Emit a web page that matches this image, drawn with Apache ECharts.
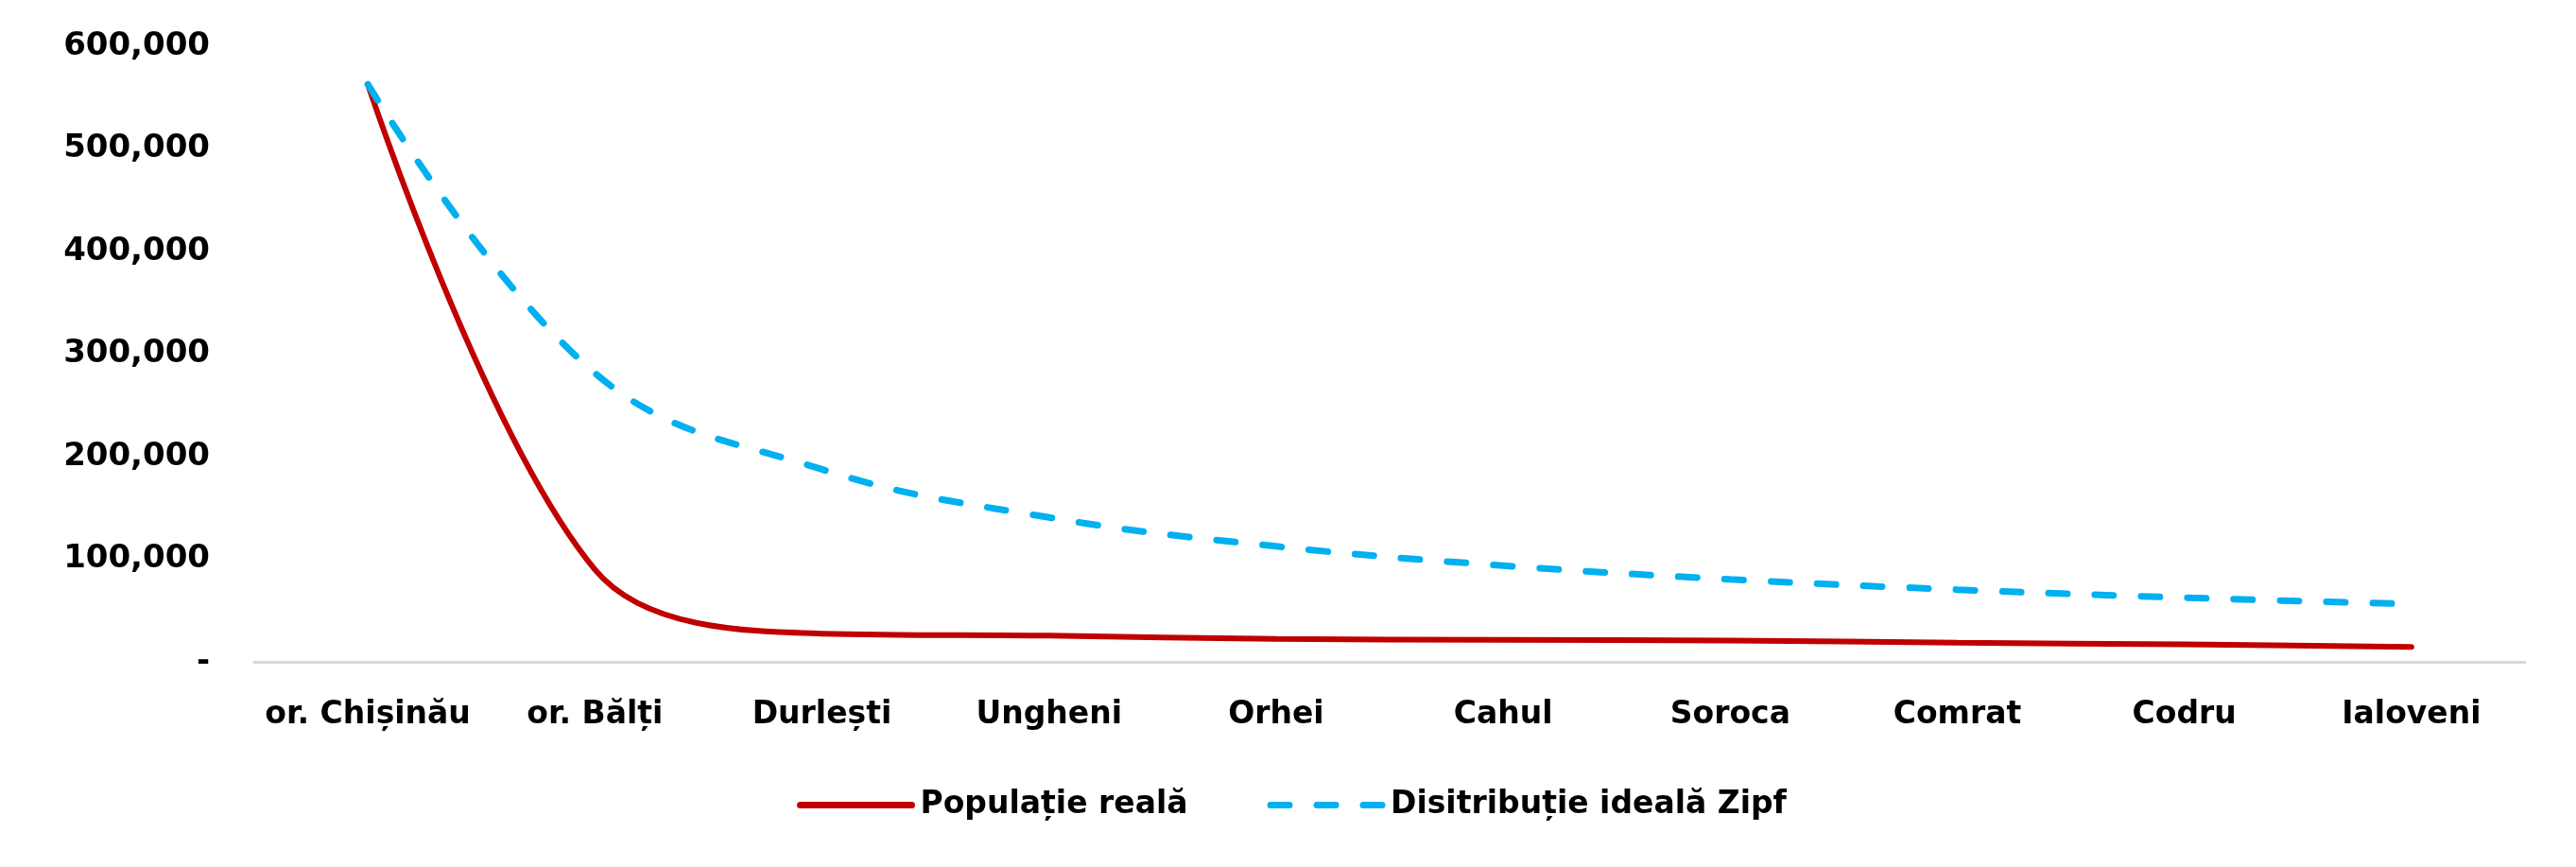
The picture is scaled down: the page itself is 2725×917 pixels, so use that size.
<!DOCTYPE html>
<html>
<head>
<meta charset="utf-8">
<script src="https://cdn.jsdelivr.net/npm/echarts@6/dist/echarts.min.js"></script>
<style>
html,body{margin:0;padding:0;background:#fff;}
#chart{width:2725px;height:917px;}
</style>
</head>
<body>
<div id="chart"></div>
<script>
const categories = ['or. Chișinău', 'or. Bălți', 'Durlești', 'Ungheni', 'Orhei', 'Cahul', 'Soroca', 'Comrat', 'Codru', 'Ialoveni'];
const populatieReala = [563000, 90000, 27500, 25500, 22300, 21500, 20700, 18600, 17000, 14500];
const zipfIdeal = [563000, 281500, 187667, 140750, 112600, 93833, 80429, 70375, 62556, 56300];
const seriesNames = ['Populație reală', 'Disitribuție ideală Zipf'];

const FONT = 'DejaVu Sans';
const hidden = { color: 'rgba(0,0,0,0)', borderColor: 'rgba(0,0,0,0)', borderWidth: 0, opacity: 0 };
const chart = echarts.init(document.getElementById('chart'));
chart.setOption({
  backgroundColor: '#ffffff',
  animation: false,
  grid: { left: 269, right: 54, top: 49, bottom: 217, containLabel: false },
  legend: {
    data: [
      { name: seriesNames[0], itemStyle: hidden, lineStyle: { color: '#C00000', width: 7, type: 'solid', cap: 'round' } },
      { name: seriesNames[1], itemStyle: hidden, lineStyle: { color: '#00B0F0', width: 7, type: [20, 29], cap: 'round' } }
    ],
    left: 838,
    top: 830,
    itemWidth: 118,
    itemHeight: 34,
    itemGap: 84,
    textStyle: { fontFamily: FONT, fontWeight: 'bold', fontSize: 33, color: '#000', padding: [0, 0, 0, 4] }
  },
  xAxis: {
    type: 'category',
    data: categories,
    boundaryGap: true,
    axisLine: { show: true, lineStyle: { color: '#D9D9D9', width: 3 } },
    axisTick: { show: false },
    axisLabel: { fontFamily: FONT, fontWeight: 'bold', fontSize: 33, color: '#000', margin: 40, interval: 0 }
  },
  yAxis: {
    type: 'value',
    min: 0,
    max: 600000,
    interval: 100000,
    splitLine: { show: false },
    axisLine: { show: false },
    axisTick: { show: false },
    axisLabel: {
      fontFamily: FONT, fontWeight: 'bold', fontSize: 34, color: '#000', margin: 47,
      formatter: function (v) { return v === 0 ? '-' : v.toLocaleString('en-US'); }
    }
  },
  series: [
    {
      name: seriesNames[0],
      type: 'line',
      data: populatieReala,
      smooth: 0.35,
      symbol: 'none',
      lineStyle: { color: '#C00000', width: 6, cap: 'round' },
      itemStyle: { color: '#C00000' }
    },
    {
      name: seriesNames[1],
      type: 'line',
      data: zipfIdeal,
      smooth: 0.4,
      symbol: 'none',
      lineStyle: { color: '#00B0F0', width: 7, type: [20, 29], cap: 'round' },
      itemStyle: { color: '#00B0F0' }
    }
  ]
});
</script>
</body>
</html>
